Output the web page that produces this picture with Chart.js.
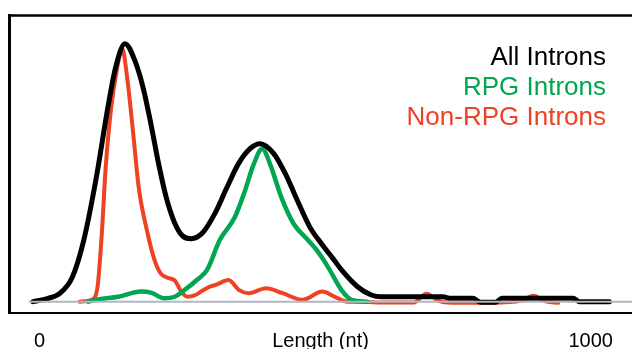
<!DOCTYPE html>
<html>
<head>
<meta charset="utf-8">
<script src="https://cdn.jsdelivr.net/npm/chart.js@4/dist/chart.umd.min.js"></script>
<style>
  html, body { margin: 0; padding: 0; background: #ffffff; overflow: hidden; }
  canvas { display: block; }
</style>
</head>
<body>
<canvas id="c" width="632" height="349"></canvas>
<script>
// ---- Data (intron length in nt, relative density; All Introns peak = 100) ----
const seriesLabels = ["All Introns", "RPG Introns", "Non-RPG Introns"];
const seriesColors = ["#000000", "#00a651", "#ef4123"];

const allLength = [-12, 14, 36, 59, 80, 102, 123, 138, 155, 173, 188, 202, 216, 230, 245, 259, 275, 296, 318, 339, 361, 382, 400, 425, 446, 468, 491, 513, 534, 548, 577, 602, 620, 732, 746, 786, 800, 827, 839, 968, 980, 1034];
const allDensity = [0, 1.2, 3.1, 9.3, 23.6, 46.9, 74.0, 90.7, 100, 93.4, 82.9, 69.0, 53.5, 40.3, 30.6, 25.6, 24.4, 26.7, 34.1, 43.8, 53.5, 59.3, 61.2, 57.4, 49.6, 39.1, 28.7, 22.1, 16.3, 12.3, 5.8, 2.6, 1.9, 1.9, 1.3, 1.3, -0.2, -0.2, 1.3, 1.3, 0, 0];

const rpgLength = [88, 107, 143, 184, 202, 227, 245, 263, 286, 304, 327, 354, 371, 389, 404, 418, 439, 461, 487, 505, 523, 548, 566, 595];
const rpgDensity = [0, 0.9, 1.9, 3.9, 3.5, 1.3, 1.9, 4.5, 8.5, 12.3, 23.9, 32.6, 41.9, 53.5, 59.3, 53.5, 40.3, 30.2, 23.9, 19.4, 13.6, 4.5, 0.7, 0];

const nonRpgLength = [73, 95, 105, 113, 120, 130, 141, 150, 159, 170, 180, 195, 209, 220, 232, 246, 255, 268, 280, 296, 309, 321, 343, 362, 380, 411, 441, 477, 513, 536, 559, 580, 613, 679, 702, 723, 750, 821, 875, 896, 920, 941];
const nonRpgDensity = [0, 0.8, 5.4, 26.4, 51.9, 75.2, 90.7, 98.1, 86.8, 65.1, 44.2, 27.5, 15.9, 10.9, 9.3, 8.1, 4.7, 1.9, 2.3, 4.3, 5.8, 6.6, 8.4, 4.5, 3.3, 5.2, 3.3, 0.7, 3.9, 1.9, 0, 0, -0.3, -0.3, 3.1, 0.4, -0.4, -0.4, 0.4, 2.3, 0, -0.4];

const baselineLength = [-18, 1080];
const baselineDensity = [0, 0];

const tickValues = [0, 1000];
const tickLabels = ["0", "1000"];
const xTitle = "Length (nt)";

// ---- Build datasets ----
function pts(xs, ys) { return xs.map((x, i) => ({ x: x, y: ys[i] })); }

const FONT = "'Liberation Sans', Arial, Helvetica, sans-serif";

const datasets = [
  { label: "baseline", data: pts(baselineLength, baselineDensity), borderColor: "#b3b6c2", borderWidth: 2, tension: 0 },
  { label: seriesLabels[0], data: pts(allLength, allDensity), borderColor: seriesColors[0], borderWidth: 5, cubicInterpolationMode: "monotone" },
  { label: seriesLabels[1], data: pts(rpgLength, rpgDensity), borderColor: seriesColors[1], borderWidth: 4.5, cubicInterpolationMode: "monotone" },
  { label: seriesLabels[2], data: pts(nonRpgLength, nonRpgDensity), borderColor: seriesColors[2], borderWidth: 4, cubicInterpolationMode: "monotone" }
];

const framePlugin = {
  id: "frame",
  afterDraw(chart) {
    const ctx = chart.ctx, a = chart.chartArea;
    ctx.save();
    ctx.strokeStyle = "#000";
    ctx.lineCap = "butt";
    // left
    ctx.lineWidth = 3;
    ctx.beginPath(); ctx.moveTo(a.left + 0.5, a.top - 1); ctx.lineTo(a.left + 0.5, a.bottom + 2); ctx.stroke();
    // top
    ctx.lineWidth = 2.5;
    ctx.beginPath(); ctx.moveTo(a.left - 1, a.top + 0.5); ctx.lineTo(chart.width, a.top + 0.5); ctx.stroke();
    // bottom
    ctx.lineWidth = 2;
    ctx.beginPath(); ctx.moveTo(a.left - 1, a.bottom + 1); ctx.lineTo(chart.width, a.bottom + 1); ctx.stroke();
    // legend text
    ctx.font = "26px " + FONT;
    ctx.textAlign = "right";
    ctx.textBaseline = "alphabetic";
    seriesLabels.forEach((t, i) => {
      ctx.fillStyle = seriesColors[i];
      ctx.fillText(t, 606, a.top + 50 + i * 30);
    });
    ctx.restore();
  }
};

new Chart(document.getElementById("c"), {
  type: "line",
  data: { datasets: datasets },
  options: {
    responsive: false,
    animation: false,
    devicePixelRatio: 1,
    layout: { padding: { left: 9, top: 15, right: -10, bottom: 0 } },
    elements: { point: { radius: 0 }, line: { fill: false, borderJoinStyle: "round", borderCapStyle: "round" } },
    plugins: { legend: { display: false }, tooltip: { enabled: false } },
    scales: {
      x: {
        type: "linear",
        min: -55.4,
        max: 1075,
        grid: { display: false, drawTicks: false },
        border: { display: false },
        afterBuildTicks(scale) { scale.ticks = tickValues.map(v => ({ value: v })); },
        afterFit(scale) { scale.height = 37; },
        ticks: {
          autoSkip: false,
          maxRotation: 0,
          padding: 17,
          color: "#000",
          font: { family: FONT, size: 20 },
          callback(value) { const i = tickValues.indexOf(value); return i >= 0 ? tickLabels[i] : ""; }
        },
        title: {
          display: true,
          text: xTitle,
          color: "#000",
          font: { family: FONT, size: 20 },
          padding: { top: 0, bottom: -4 }
        }
      },
      y: {
        type: "linear",
        display: false,
        min: -4.0,
        max: 111.1
      }
    }
  },
  plugins: [framePlugin]
});
</script>
</body>
</html>
